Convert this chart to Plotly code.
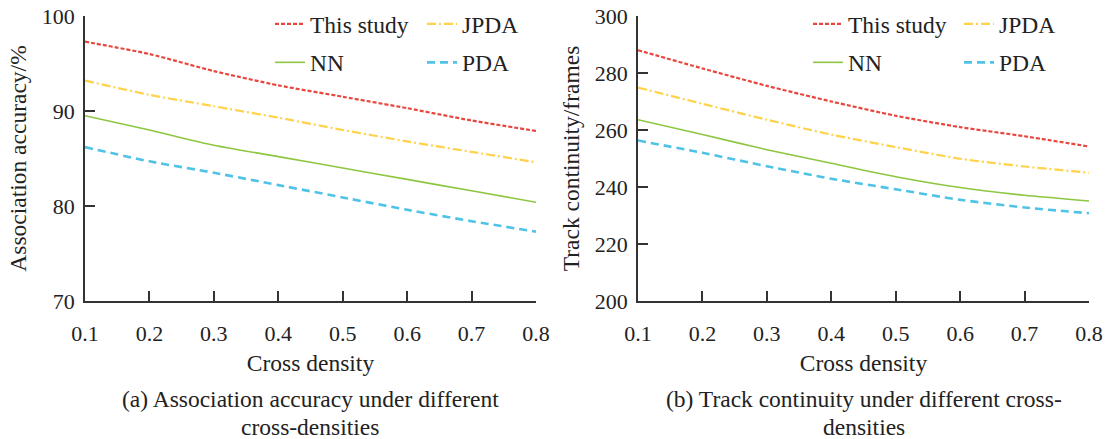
import plotly.graph_objects as go

x = [0.1, 0.2, 0.3, 0.4, 0.5, 0.6, 0.7, 0.8]
series_names = ["This study", "JPDA", "NN", "PDA"]

acc_this = [97.3, 96.0, 94.2, 92.7, 91.5, 90.3, 89.0, 87.9]
acc_jpda = [93.2, 91.7, 90.5, 89.3, 88.0, 86.8, 85.7, 84.6]
acc_nn = [89.5, 88.0, 86.4, 85.2, 84.0, 82.8, 81.6, 80.4]
acc_pda = [86.2, 84.7, 83.5, 82.2, 80.9, 79.6, 78.4, 77.3]

cont_this = [288.0, 281.6, 275.5, 270.0, 265.0, 261.0, 257.8, 254.2]
cont_jpda = [274.9, 269.2, 263.6, 258.4, 254.0, 249.9, 247.2, 245.0]
cont_nn = [263.6, 258.4, 253.1, 248.3, 243.6, 239.8, 237.1, 235.1]
cont_pda = [256.3, 252.0, 247.3, 242.9, 239.2, 235.5, 232.8, 230.8]

styles = {
    "This study": dict(color="#E8473F", dash="4px,2px", width=2.2),
    "JPDA": dict(color="#FFD24A", dash="9px,3px,2px,3px", width=2.2),
    "NN": dict(color="#8DC641", dash="solid", width=1.6),
    "PDA": dict(color="#4FC3E6", dash="8px,5px", width=2.6),
}

FONT = "Liberation Serif, Times New Roman, serif"
TXT = 23.5
fig = go.Figure()

left = {"This study": acc_this, "JPDA": acc_jpda, "NN": acc_nn, "PDA": acc_pda}
right = {"This study": cont_this, "JPDA": cont_jpda, "NN": cont_nn, "PDA": cont_pda}
leg_left = {"This study": "legend", "NN": "legend", "JPDA": "legend2", "PDA": "legend2"}
leg_right = {"This study": "legend3", "NN": "legend3", "JPDA": "legend4", "PDA": "legend4"}

for name in series_names:
    fig.add_trace(go.Scatter(x=x, y=left[name], name=name, mode="lines",
                             line=dict(shape="spline", smoothing=0.6, **styles[name]),
                             xaxis="x", yaxis="y", legend=leg_left[name], legendgroup="L" + name))
for name in series_names:
    fig.add_trace(go.Scatter(x=x, y=right[name], name=name, mode="lines",
                             line=dict(shape="spline", smoothing=0.6, **styles[name]),
                             xaxis="x2", yaxis="y2", legend=leg_right[name], legendgroup="R" + name))

W, H = 1107, 439
yd = [1 - 301 / H, 1 - 16 / H]
axis_common = dict(showline=True, linecolor="#333333", linewidth=1.8, ticks="inside", ticklen=10,
                   tickcolor="#333333", tickwidth=1.5, showgrid=False, zeroline=False, automargin=False,
                   tickfont=dict(family=FONT, size=22, color="#222222"))

xtitle = dict(text="Cross density", font=dict(family=FONT, size=TXT, color="#222222"), standoff=9)
ticktext = ["0.1", "0.2", "0.3", "0.4", "0.5", "0.6", "0.7", "0.8"]

fig.update_layout(
    width=W, height=H, margin=dict(l=0, r=0, t=0, b=0, autoexpand=False),
    paper_bgcolor="white", plot_bgcolor="white",
    font=dict(family=FONT, size=TXT, color="#222222"),
    xaxis=dict(domain=[85 / W, 536 / W], range=[0.1, 0.8], tickvals=x, ticktext=ticktext,
               anchor="y", title=xtitle, ticklabelstandoff=12, **axis_common),
    yaxis=dict(domain=yd, range=[70, 100], tickvals=[70, 80, 90, 100], anchor="x",
               title=dict(text="Association accuracy/%", font=dict(family=FONT, size=TXT, color="#222222"), standoff=8),
               ticklabelstandoff=4, **axis_common),
    xaxis2=dict(domain=[638 / W, 1089 / W], range=[0.1, 0.8], tickvals=x, ticktext=ticktext,
                anchor="y2", title=xtitle, ticklabelstandoff=12, **axis_common),
    yaxis2=dict(domain=yd, range=[200, 300], tickvals=[200, 220, 240, 260, 280, 300], anchor="x2",
                title=dict(text="Track continuity/frames", font=dict(family=FONT, size=TXT, color="#222222"), standoff=8),
                ticklabelstandoff=4, **axis_common),
)

leg_common = dict(orientation="v", yanchor="top", xanchor="left", bgcolor="rgba(0,0,0,0)",
                  tracegroupgap=5, font=dict(family=FONT, size=TXT, color="#222222"),
                  y=1 - 2 / H)
fig.update_layout(
    legend=dict(x=270 / W, **leg_common),
    legend2=dict(x=422 / W, **leg_common),
    legend3=dict(x=808 / W, **leg_common),
    legend4=dict(x=959 / W, **leg_common),
)

captions = [
    ("(a) Association accuracy under different", 310, 399),
    ("cross-densities", 310, 427),
    ("(b) Track continuity under different cross-", 864, 399),
    ("densities", 864, 427),
]
for text, cx, cy in captions:
    fig.add_annotation(text=text, x=cx / W, y=1 - cy / H, xref="paper", yref="paper",
                       xanchor="center", yanchor="middle", showarrow=False,
                       font=dict(family=FONT, size=TXT, color="#222222"))

fig.write_html("out.html", post_script="document.body.style.margin='0';",
               config={"displayModeBar": False})
